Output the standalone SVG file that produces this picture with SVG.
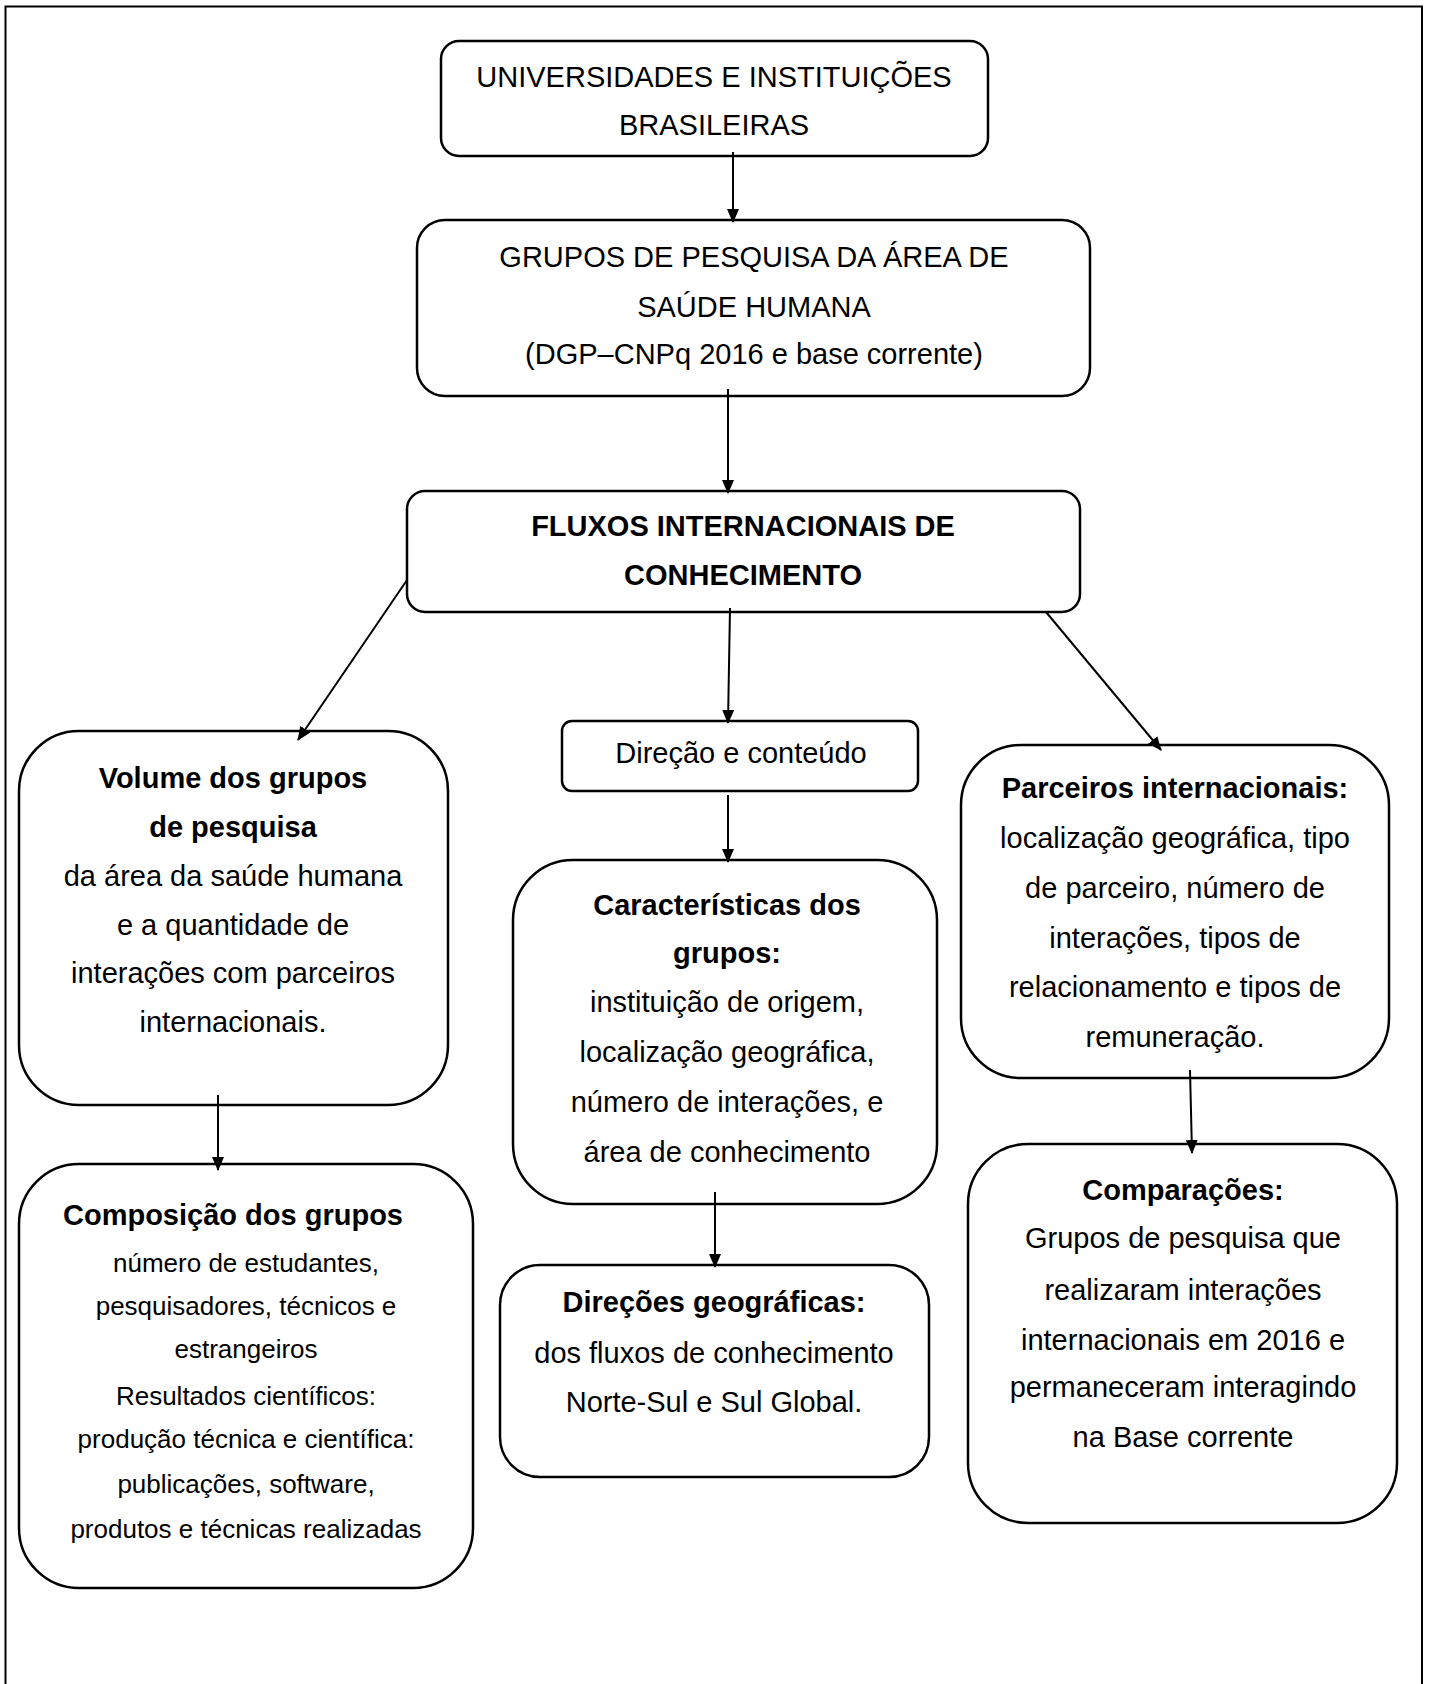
<svg xmlns="http://www.w3.org/2000/svg" width="1433" height="1684" viewBox="0 0 1433 1684">
<style>
  .box { fill: #fff; stroke: #000; stroke-width: 2.5; }
  .t { font-family: "Liberation Sans", Arial, sans-serif; font-size: 29px; fill: #000; text-anchor: middle; }
  .b { font-weight: bold; }
  .s { font-size: 26px; }
  .c { stroke: #000; stroke-width: 2; fill: none; marker-end: url(#ah); }
</style>
<defs>
  <marker id="ah" markerUnits="userSpaceOnUse" markerWidth="14" markerHeight="12" viewBox="0 0 14 12" refX="13" refY="6" orient="auto">
    <path d="M0,0 L14,6 L0,12 Z" fill="#000"/>
  </marker>
</defs>
<rect width="1433" height="1684" fill="#fff"/>
<path d="M5.5,1690 V6.5 H1422 V1690" fill="none" stroke="#000" stroke-width="2"/>

<g id="n_universidades">
  <rect class="box" x="441" y="41" width="547" height="115" rx="18"/>
  <text class="t" x="714" y="87">UNIVERSIDADES E INSTITUIÇÕES</text>
  <text class="t" x="714" y="135">BRASILEIRAS</text>
</g>

<g id="n_grupos">
  <rect class="box" x="417" y="220" width="673" height="176" rx="28"/>
  <text class="t" x="754" y="267">GRUPOS DE PESQUISA DA ÁREA DE</text>
  <text class="t" x="754" y="317">SAÚDE HUMANA</text>
  <text class="t" x="754" y="364">(DGP–CNPq 2016 e base corrente)</text>
</g>

<g id="n_fluxos">
  <rect class="box" x="407" y="491" width="673" height="121" rx="18"/>
  <text class="t b" x="743" y="536">FLUXOS INTERNACIONAIS DE</text>
  <text class="t b" x="743" y="585">CONHECIMENTO</text>
</g>

<g id="n_direcao">
  <rect class="box" x="562" y="721" width="356" height="70" rx="10"/>
  <text class="t" x="741" y="763">Direção e conteúdo</text>
</g>

<g id="n_volume">
  <rect class="box" x="19" y="731" width="429" height="374" rx="60"/>
  <text class="t b" x="233" y="788">Volume dos grupos</text>
  <text class="t b" x="233" y="837">de pesquisa</text>
  <text class="t" x="233" y="886">da área da saúde humana</text>
  <text class="t" x="233" y="935">e a quantidade de</text>
  <text class="t" x="233" y="983">interações com parceiros</text>
  <text class="t" x="233" y="1032">internacionais.</text>
</g>

<g id="n_parceiros">
  <rect class="box" x="961" y="745" width="428" height="333" rx="60"/>
  <text class="t b" x="1175" y="798">Parceiros internacionais:</text>
  <text class="t" x="1175" y="848">localização geográfica, tipo</text>
  <text class="t" x="1175" y="898">de parceiro, número de</text>
  <text class="t" x="1175" y="948">interações, tipos de</text>
  <text class="t" x="1175" y="997">relacionamento e tipos de</text>
  <text class="t" x="1175" y="1047">remuneração.</text>
</g>

<g id="n_caracteristicas">
  <rect class="box" x="513" y="860" width="424" height="344" rx="60"/>
  <text class="t b" x="727" y="915">Características dos</text>
  <text class="t b" x="727" y="963">grupos:</text>
  <text class="t" x="727" y="1012">instituição de origem,</text>
  <text class="t" x="727" y="1062">localização geográfica,</text>
  <text class="t" x="727" y="1112">número de interações, e</text>
  <text class="t" x="727" y="1162">área de conhecimento</text>
</g>

<g id="n_composicao">
  <rect class="box" x="19" y="1164" width="454" height="424" rx="60"/>
  <text class="t b" x="233" y="1225">Composição dos grupos</text>
  <text class="t s" x="246" y="1272">número de estudantes,</text>
  <text class="t s" x="246" y="1315">pesquisadores, técnicos e</text>
  <text class="t s" x="246" y="1358">estrangeiros</text>
  <text class="t s" x="246" y="1405">Resultados científicos:</text>
  <text class="t s" x="246" y="1448">produção técnica e científica:</text>
  <text class="t s" x="246" y="1493">publicações, software,</text>
  <text class="t s" x="246" y="1538">produtos e técnicas realizadas</text>
</g>

<g id="n_direcoes">
  <rect class="box" x="500" y="1265" width="429" height="212" rx="40"/>
  <text class="t b" x="714" y="1312">Direções geográficas:</text>
  <text class="t" x="714" y="1363">dos fluxos de conhecimento</text>
  <text class="t" x="714" y="1412">Norte-Sul e Sul Global.</text>
</g>

<g id="n_comparacoes">
  <rect class="box" x="968" y="1144" width="429" height="379" rx="60"/>
  <text class="t b" x="1183" y="1200">Comparações:</text>
  <text class="t" x="1183" y="1248">Grupos de pesquisa que</text>
  <text class="t" x="1183" y="1300">realizaram interações</text>
  <text class="t" x="1183" y="1350">internacionais em 2016 e</text>
  <text class="t" x="1183" y="1397">permaneceram interagindo</text>
  <text class="t" x="1183" y="1447">na Base corrente</text>
</g>

<g id="connectors">
  <line class="c" x1="733" y1="152" x2="733" y2="222"/>
  <line class="c" x1="728" y1="389" x2="728" y2="493"/>
  <line class="c" x1="730" y1="608" x2="728" y2="723"/>
  <line class="c" x1="407" y1="580" x2="298" y2="740"/>
  <line class="c" x1="1046" y1="612" x2="1161" y2="750"/>
  <line class="c" x1="218" y1="1095" x2="218" y2="1170"/>
  <line class="c" x1="728" y1="795" x2="728" y2="862"/>
  <line class="c" x1="715" y1="1192" x2="715" y2="1267"/>
  <line class="c" x1="1190" y1="1070" x2="1192" y2="1153"/>
</g>
</svg>
